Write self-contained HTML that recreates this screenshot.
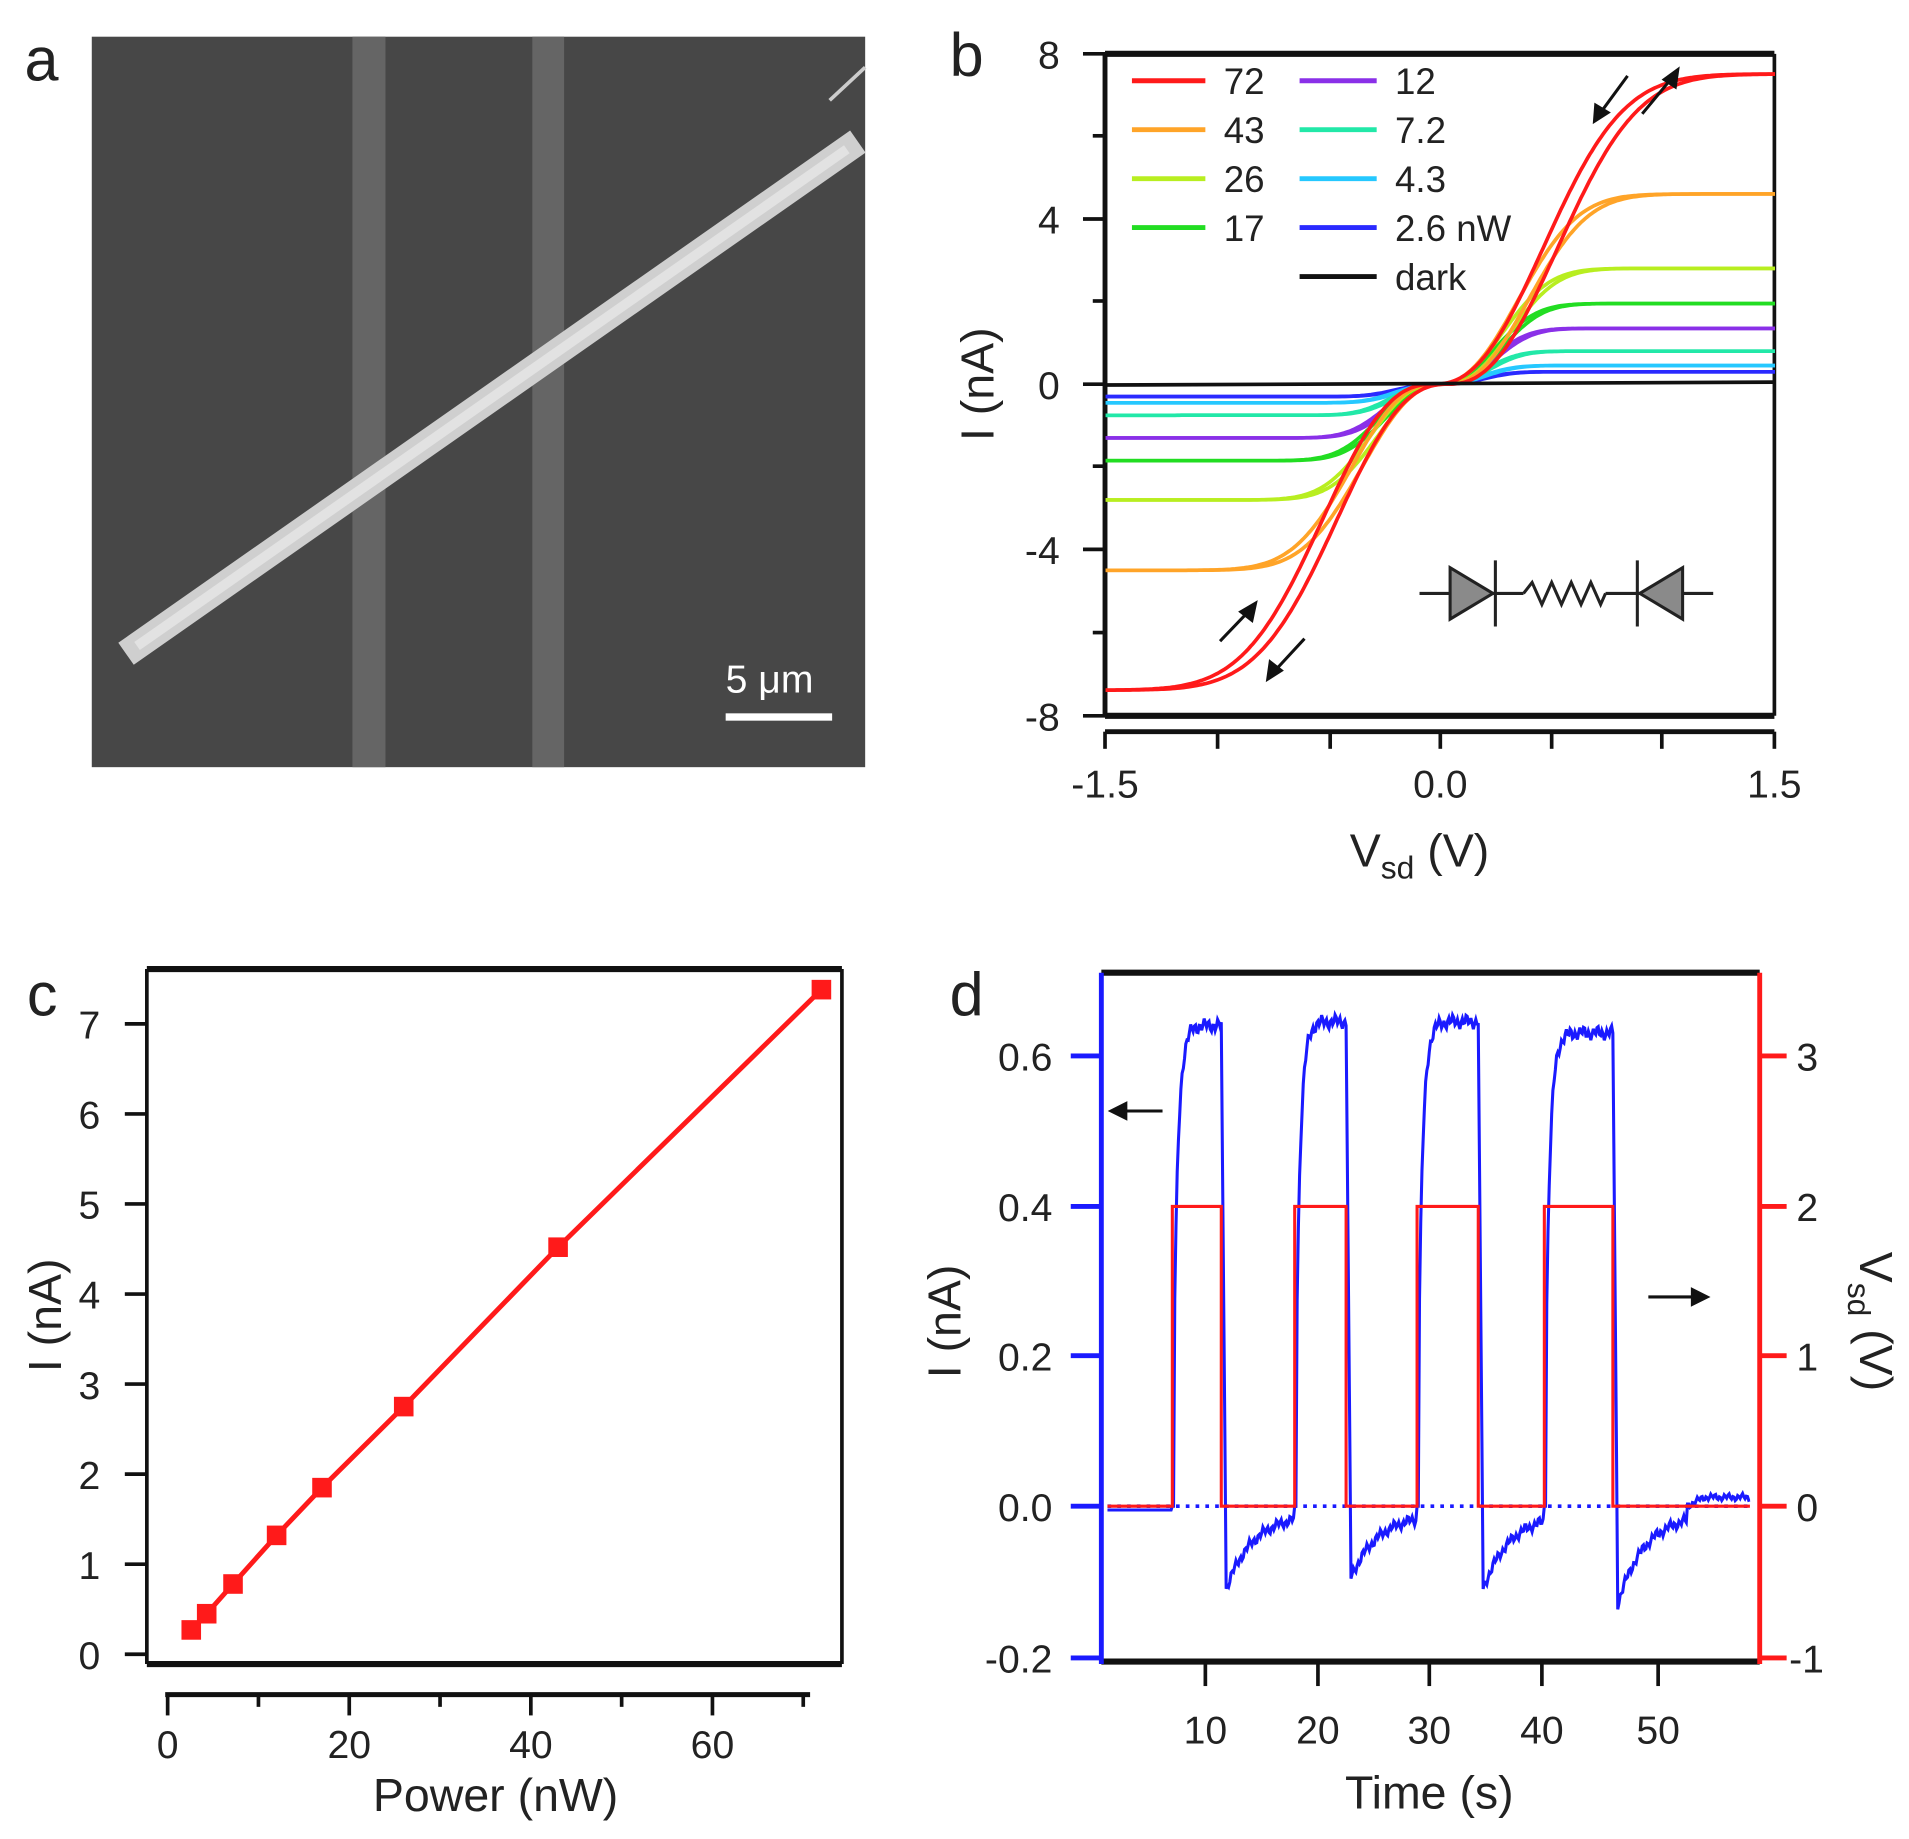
<!DOCTYPE html>
<html><head><meta charset="utf-8"><style>
html,body{margin:0;padding:0;background:#fff}
svg{display:block}
text{font-family:"Liberation Sans",Arial,sans-serif;fill:#222}
</style></head><body>
<svg id="s" width="1909" height="1839" viewBox="0 0 1560 1503" preserveAspectRatio="none" xmlns="http://www.w3.org/2000/svg">
<!-- Panel a -->
<text x="20" y="66" font-size="50">a</text>
<rect x="75" y="30" width="632" height="597" fill="#474747"/>
<rect x="288" y="30" width="27" height="597" fill="#656565"/>
<rect x="435" y="30" width="26" height="597" fill="#656565"/>
<line x1="112" y1="528" x2="692" y2="122" stroke="#cfcfcf" stroke-width="22" stroke-linecap="square"/>
<line x1="112" y1="528" x2="692" y2="122" stroke="#e2e2e2" stroke-width="8"/>
<line x1="678" y1="82" x2="707" y2="55" stroke="#ccc" stroke-width="3"/>
<text x="593" y="566" font-size="32" fill="#fff" style="fill:#fff">5 μm</text>
<rect x="593" y="583" width="87" height="6" fill="#fff"/>

<!-- Panel b -->
<text x="776" y="62" font-size="50">b</text>
<g stroke="#111" fill="none">
<line x1="903" y1="44" x2="1450" y2="44" stroke-width="5"/>
<line x1="903" y1="585" x2="1450" y2="585" stroke-width="5"/>
<line x1="1450" y1="44" x2="1450" y2="585" stroke-width="3"/>
<line x1="903" y1="44" x2="903" y2="585" stroke-width="4"/>
<line x1="903" y1="598" x2="1450" y2="598" stroke-width="4"/>
</g>
<g id="bticks" stroke="#111" stroke-width="3"></g>
<g font-size="32" text-anchor="end">
<text x="866" y="56">8</text><text x="866" y="191">4</text><text x="866" y="326">0</text><text x="866" y="461">-4</text><text x="866" y="597">-8</text>
</g>
<g font-size="32" text-anchor="middle">
<text x="903" y="652">-1.5</text><text x="1177" y="652">0.0</text><text x="1450" y="652">1.5</text>
<text x="1160" y="708" font-size="38">V<tspan font-size="26" dy="10">sd</tspan><tspan dy="-10"> (V)</tspan></text>
</g>
<text transform="translate(812,314) rotate(-90)" font-size="38" text-anchor="middle">I (nA)</text>
<g id="bcurves" fill="none" stroke-width="3"></g>
<g id="legend" font-size="30"></g>
<!-- arrows b -->
<g stroke="#111" stroke-width="2.5" fill="#111">
<line x1="1330" y1="62" x2="1308" y2="92"/><polygon points="1303,99 1304,86 1314,92"/>
<line x1="1342" y1="93" x2="1366" y2="64"/><polygon points="1371,57 1369,71 1360,65"/>
<line x1="997" y1="524" x2="1020" y2="500"/><polygon points="1026,493 1023,507 1014,500"/>
<line x1="1066" y1="522" x2="1042" y2="548"/><polygon points="1036,555 1038,541 1047,548"/>
</g>
<!-- circuit -->
<g stroke="#222" stroke-width="2.5">
<line x1="1160" y1="485" x2="1245" y2="485"/>
<polygon points="1185,464 1220,485 1185,506" fill="#8a8a8a"/>
<line x1="1222" y1="458" x2="1222" y2="512"/>
<polyline fill="none" points="1245,485 1252,476 1260,494 1268,476 1276,494 1284,476 1292,494 1300,476 1308,494 1312,485"/>
<line x1="1312" y1="485" x2="1400" y2="485"/>
<line x1="1338" y1="458" x2="1338" y2="512"/>
<polygon points="1375,464 1340,485 1375,506" fill="#8a8a8a"/>
</g>

<!-- Panel c -->
<text x="22" y="830" font-size="50">c</text>
<g stroke="#111" fill="none">
<line x1="120" y1="792" x2="688" y2="792" stroke-width="5"/>
<line x1="120" y1="1360" x2="688" y2="1360" stroke-width="5"/>
<line x1="688" y1="792" x2="688" y2="1360" stroke-width="3"/>
<line x1="120" y1="792" x2="120" y2="1360" stroke-width="3"/>
<line x1="135" y1="1385" x2="662" y2="1385" stroke-width="4"/>
</g>
<g id="cticks" stroke="#111" stroke-width="3"></g>
<g id="clab" font-size="32"></g>
<text x="405" y="1480" font-size="38" text-anchor="middle">Power (nW)</text>
<text transform="translate(50,1075) rotate(-90)" font-size="38" text-anchor="middle">I (nA)</text>
<g id="cdata"></g>

<!-- Panel d -->
<text x="776" y="830" font-size="50">d</text>
<g fill="none">
<line x1="900" y1="795" x2="1438" y2="795" stroke="#111" stroke-width="5"/>
<line x1="900" y1="1358" x2="1438" y2="1358" stroke="#111" stroke-width="5"/>
<line x1="900" y1="795" x2="900" y2="1360" stroke="#1a1aff" stroke-width="4"/>
<line x1="1438" y1="795" x2="1438" y2="1360" stroke="#ff1a1a" stroke-width="4"/>
<line x1="905" y1="1231" x2="1430" y2="1231" stroke="#1a1aff" stroke-width="3" stroke-dasharray="3 5"/>
</g>
<g id="dticks"></g>
<g font-size="32" text-anchor="end">
<text x="860" y="875">0.6</text><text x="860" y="998">0.4</text><text x="860" y="1120">0.2</text><text x="860" y="1243">0.0</text><text x="860" y="1367">-0.2</text>
</g>
<g font-size="32">
<text x="1468" y="875">3</text><text x="1468" y="998">2</text><text x="1468" y="1120">1</text><text x="1468" y="1243">0</text><text x="1462" y="1367">-1</text>
</g>
<g font-size="32" text-anchor="middle">
<text x="985" y="1425">10</text><text x="1077" y="1425">20</text><text x="1168" y="1425">30</text><text x="1260" y="1425">40</text><text x="1355" y="1425">50</text>
<text x="1168" y="1478" font-size="38">Time (s)</text>
</g>
<text transform="translate(785,1080) rotate(-90)" font-size="38" text-anchor="middle">I (nA)</text>
<text transform="translate(1520,1080) rotate(90)" font-size="38" text-anchor="middle">V<tspan font-size="26" dy="10">sd</tspan><tspan dy="-10"> (V)</tspan></text>
<g id="dcurves" fill="none"></g>
<g stroke="#111" stroke-width="2.5" fill="#111">
<line x1="950" y1="908" x2="918" y2="908"/><polygon points="908,908 920,902 920,914"/>
<line x1="1347" y1="1060" x2="1384" y2="1060"/><polygon points="1395,1060 1383,1054 1383,1066"/>
</g>
</svg>
<script>
const NS="http://www.w3.org/2000/svg";
function el(p,tag,at,txt){const e=document.createElementNS(NS,tag);for(const k in at)e.setAttribute(k,at[k]);if(txt!==undefined)e.textContent=txt;document.getElementById(p).appendChild(e);return e;}
// b ticks
[44,111,179,246,314,381,449,517,585].forEach((y,i)=>el("bticks","line",{x1:903,x2:i%2?893:885,y1:y,y2:y}));
[903,995,1087,1177,1268,1358,1450].forEach(x=>el("bticks","line",{x1:x,x2:x,y1:598,y2:612}));
// b curves
const X=v=>1177+v*182.3, Y=i=>314-i*33.8;
const series=[
["#2a2aff",0.3,-0.3],["#25c8ff",0.45,-0.45],["#22e8a8",0.8,-0.75],["#8a30e8",1.35,-1.3],
["#22dd22",1.95,-1.85],["#b8ee20",2.8,-2.8],["#ffa428",4.6,-4.5],["#ff1a1a",7.5,-7.4]];
series.forEach(([c,ip,ineg])=>{
  const w=0.22+0.4*(ip/7.5), p=2.4;
  [-1,1].forEach(sh=>{
    let d="";
    for(let v=-1.5;v<=1.5001;v+=0.01){
      const vv=v+sh*0.025*(ip/7.5+0.3);
      const a=Math.abs(vv), f=1-Math.exp(-Math.pow(a/w,p));
      const i=vv>=0?ip*f:ineg*f;
      d+=(d?"L":"M")+X(v).toFixed(1)+","+Y(i).toFixed(1);
    }
    el("bcurves","path",{d:d,stroke:c});
  });
});
el("bcurves","line",{x1:903,x2:1450,y1:Y(-0.02),y2:Y(0.05),stroke:"#111"});
// legend
const L1=[["#ff1a1a","72"],["#ffa428","43"],["#b8ee20","26"],["#22dd22","17"]];
const L2=[["#8a30e8","12"],["#22e8a8","7.2"],["#25c8ff","4.3"],["#2a2aff","2.6 nW"],["#111","dark"]];
L1.forEach(([c,t],k)=>{const y=66+40*k;el("legend","line",{x1:925,x2:985,y1:y,y2:y,stroke:c,"stroke-width":4});el("legend","text",{x:1000,y:y+11},t);});
L2.forEach(([c,t],k)=>{const y=66+40*k;el("legend","line",{x1:1062,x2:1125,y1:y,y2:y,stroke:c,"stroke-width":4});el("legend","text",{x:1140,y:y+11},t);});
// c
const cx=n=>137+n*7.42, cy=i=>1352-i*73.6;
for(let i=0;i<=7;i++){el("cticks","line",{x1:120,x2:102,y1:cy(i),y2:cy(i)});el("clab","text",{x:82,y:cy(i)+12,"text-anchor":"end"},String(i));}
for(let n=0;n<=70;n+=10){el("cticks","line",{x1:cx(n),x2:cx(n),y1:1385,y2:n%20?1395:1402});}
[0,20,40,60].forEach(n=>el("clab","text",{x:cx(n),y:1437,"text-anchor":"middle"},String(n)));
const pts=[[2.6,0.27],[4.3,0.45],[7.2,0.78],[12,1.32],[17,1.85],[26,2.75],[43,4.52],[72,7.38]];
el("cdata","polyline",{points:pts.map(p=>cx(p[0])+","+cy(p[1])).join(" "),fill:"none",stroke:"#ff1a1a","stroke-width":4});
pts.forEach(p=>el("cdata","rect",{x:cx(p[0])-8,y:cy(p[1])-8,width:16,height:16,fill:"#ff1a1a"}));
// d ticks
[863,986,1108,1231,1355].forEach(y=>{el("dticks","line",{x1:900,x2:875,y1:y,y2:y,stroke:"#1a1aff","stroke-width":4});el("dticks","line",{x1:1438,x2:1460,y1:y,y2:y,stroke:"#ff1a1a","stroke-width":4});});
[985,1077,1168,1260,1355].forEach(x=>el("dticks","line",{x1:x,x2:x,y1:1358,y2:1378,stroke:"#111","stroke-width":3}));
// d curves
const P=[[958,998,0.64,-0.10],[1058,1100,0.645,-0.085],[1158,1208,0.645,-0.10],[1262,1318,0.63,-0.12]];
const dy=i=>1231-i*614;
let r="M905,1231";
P.forEach(([s,e])=>{r+=` L${s},1231 L${s},986 L${e},986 L${e},1231`;});
r+=" L1430,1231";
let b="";
for(let x=905;x<=1430;x++){
  let i=-0.005;
  const n=0.006*Math.sin(x*1.7)+0.004*Math.sin(x*0.53+1);
  let prev=null;
  for(const [s,e,a,u] of P){
    if(x>=s&&x<=e){i=a*(1-Math.exp(-(x-s)/3.5))+n;if(x-s<2)i=0;}
    else if(x>e){prev=[e,u];}
  }
  let inPulse=P.some(([s,e])=>x>=s&&x<=e);
  if(!inPulse&&prev){
    const [e,u]=prev,t=x-e;
    if(t<4) i=P.find(p=>p[1]===e)[2]*(1-t/4)+u*(t/4);
    else { i=u*Math.exp(-(t-4)/22)+n*0.8-0.01; if(e===1318&&t>60) i=Math.min(0.012,(t-60)*0.0008)+n*0.5; }
  }
  b+=(b?"L":"M")+x+","+dy(i).toFixed(1);
}
el("dcurves","path",{d:b,stroke:"#1a1aff","stroke-width":2.5});
el("dcurves","path",{d:r,stroke:"#ff1a1a","stroke-width":2.5});
</script>
</body></html>
